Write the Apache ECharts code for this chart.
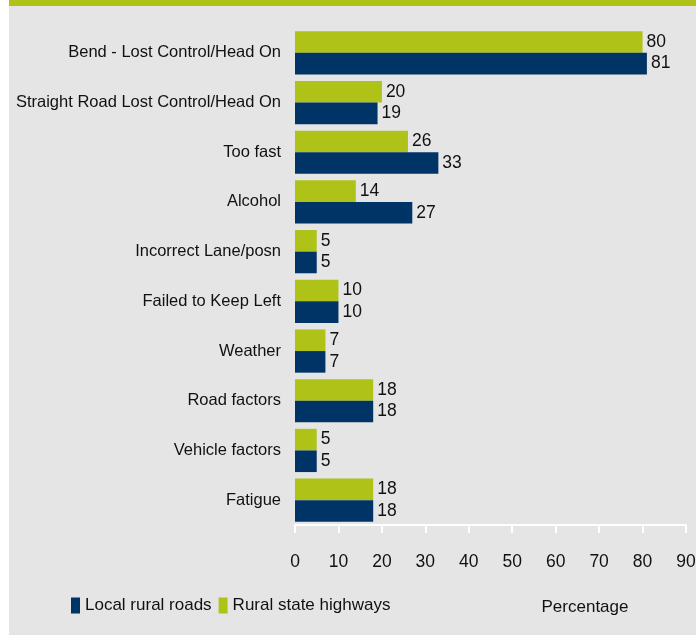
<!DOCTYPE html>
<html>
<head>
<meta charset="utf-8">
<script src="https://cdn.jsdelivr.net/npm/echarts@6/dist/echarts.min.js"></script>
<style>
  html, body { margin: 0; padding: 0; background: #fff; }
  #chart { width: 696px; height: 639px; }
</style>
</head>
<body>
<div id="chart"></div>
<script>
  // categories, top to bottom
  const categories = [
    'Bend - Lost Control/Head On',
    'Straight Road Lost Control/Head On',
    'Too fast',
    'Alcohol',
    'Incorrect Lane/posn',
    'Failed to Keep Left',
    'Weather',
    'Road factors',
    'Vehicle factors',
    'Fatigue'
  ]
  const ruralStateHighways = [80, 20, 26, 14, 5, 10, 7, 18, 5, 18]
  const localRuralRoads = [81, 19, 33, 27, 5, 10, 7, 18, 5, 18]
  const xTicks = [0, 90, 10] // min, max, step

  const font = 'Liberation Sans, Arial, sans-serif'
  const fs = 16.5
  const green = '#aec218'
  const navy = '#003366'

  const chart = echarts.init(document.getElementById('chart'))

  const labelStyle = {
    show: true,
    position: 'right',
    distance: 4,
    color: '#111',
    fontFamily: font,
    fontSize: fs + 1
  }

  chart.setOption({
    backgroundColor: '#fff',
    animation: false,
    graphic: [
      { type: 'rect', left: 9, top: 0, shape: { width: 687, height: 635 }, style: { fill: '#e5e5e5' }, z: -10 },
      { type: 'rect', left: 9, top: 0, shape: { width: 687, height: 6 }, style: { fill: green }, z: -9 },
      {
        type: 'text', x: 585, y: 607,
        style: { text: 'Percentage', fill: '#111', font: (fs + 0.5) + 'px ' + font, align: 'center', verticalAlign: 'middle' }
      }
    ],
    grid: { left: 295, right: 10, top: 28, bottom: 114, containLabel: false, outerBoundsMode: 'none' },
    legend: {
      data: ['Local rural roads', 'Rural state highways'],
      left: 66, top: 592,
      icon: 'rect',
      itemWidth: 9, itemHeight: 16, itemGap: 7,
      textStyle: { fontFamily: font, fontSize: fs + 0.5, color: '#111' }
    },
    xAxis: {
      type: 'value',
      min: xTicks[0], max: xTicks[1], interval: xTicks[2],
      axisLine: { show: true, lineStyle: { color: '#fff', width: 2 } },
      axisTick: { show: true, length: 8, lineStyle: { color: '#fff', width: 2 } },
      splitLine: { show: false },
      axisLabel: { color: '#111', fontFamily: font, fontSize: fs + 1, margin: 28 }
    },
    yAxis: {
      type: 'category',
      data: categories,
      inverse: true,
      axisLine: { show: false },
      axisTick: { show: false },
      axisLabel: { color: '#111', fontFamily: font, fontSize: fs, margin: 14 }
    },
    series: [
      {
        name: 'Rural state highways',
        type: 'bar',
        data: ruralStateHighways,
        itemStyle: { color: green },
        barGap: '0%',
        barCategoryGap: '13%',
        label: labelStyle
      },
      {
        name: 'Local rural roads',
        type: 'bar',
        data: localRuralRoads,
        itemStyle: { color: navy },
        barGap: '0%',
        barCategoryGap: '13%',
        label: labelStyle
      }
    ]
  })
</script>
</body>
</html>
